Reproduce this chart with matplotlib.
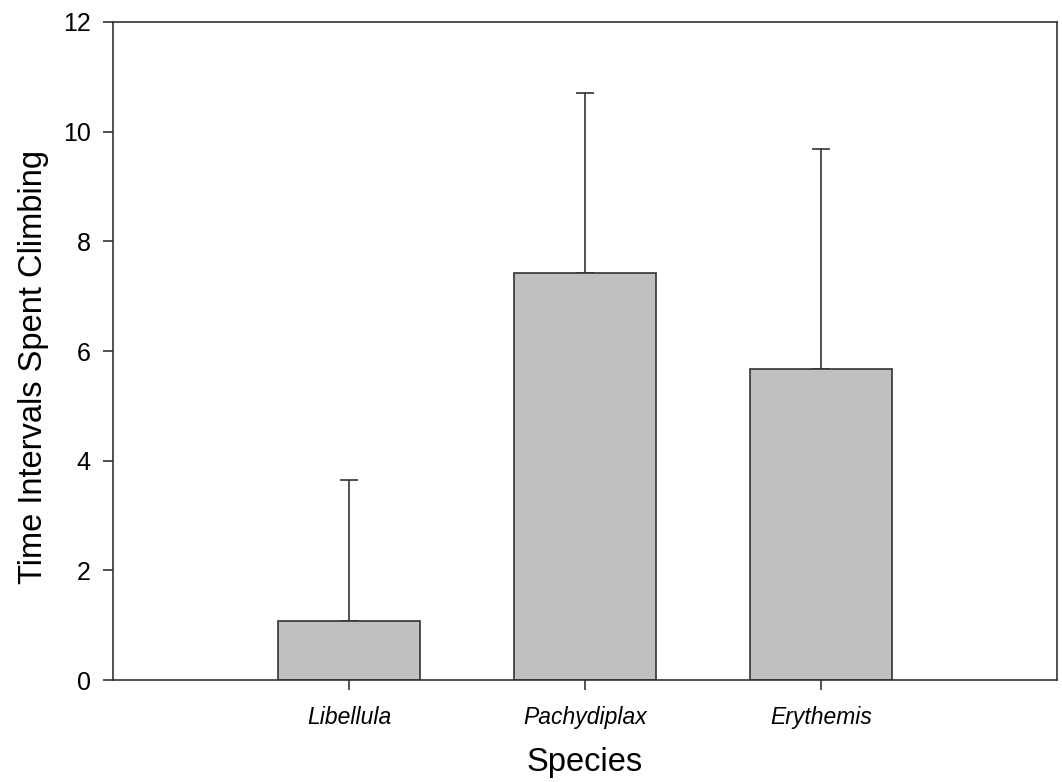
import numpy as np
import matplotlib
matplotlib.use('Agg')
import matplotlib.pyplot as plt

# Data
species = ['Libellula', 'Pachydiplax', 'Erythemis']
means = [1.07, 7.42, 5.68]
upper_err = [2.58, 3.28, 4.01]   # upward error only

plt.rcParams['font.family'] = ['Liberation Sans', 'DejaVu Sans']

fig = plt.figure(figsize=(10.62, 7.82), dpi=100)
ax = fig.add_axes([0.1064, 0.1304, 0.8889, 0.8415])

x = np.arange(1, len(species) + 1)
ax.bar(x, means, width=0.6, color='#c0c0c0', edgecolor='#333333', linewidth=1.2, zorder=2)
ax.errorbar(x, means, yerr=[np.zeros(len(means)), upper_err], fmt='none',
            ecolor='#333333', elinewidth=1.2, capsize=6.8, capthick=1.2, zorder=1)

ax.set_xlim(0, 4)
ax.set_ylim(0, 12)
ax.set_xticks(x)
ax.set_xticklabels(species, fontstyle='italic', fontsize=16.5)
ax.set_yticks(range(0, 13, 2))
ax.tick_params(axis='y', labelsize=18, length=7, width=1.2, color='#333333', pad=9)
ax.tick_params(axis='x', length=7, width=1.2, color='#333333', pad=12)

for s in ax.spines.values():
    s.set_color('#333333')
    s.set_linewidth(1.2)

ax.set_xlabel('Species', fontsize=23.5, labelpad=13)
ax.set_ylabel('Time Intervals Spent Climbing', fontsize=23.5, labelpad=10)
ax.yaxis.label.set_y(0.476)

fig.savefig('out.png', dpi=100)
